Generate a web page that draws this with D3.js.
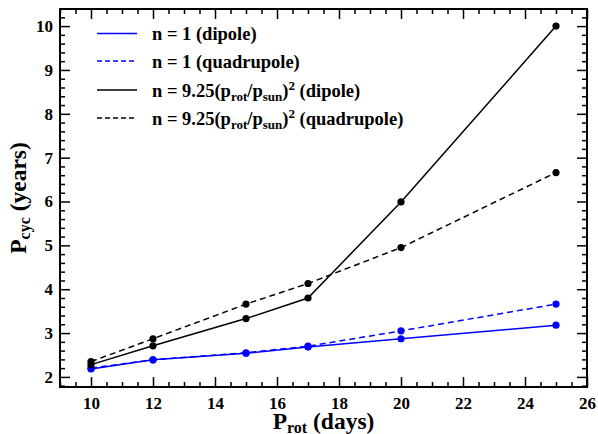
<!DOCTYPE html>
<html><head><meta charset="utf-8">
<script src="https://cdn.jsdelivr.net/npm/d3@7"></script>
<style>body{margin:0;background:#fff}svg{display:block}</style>
</head><body>
<svg id="c" width="598" height="434" font-weight="bold"></svg>
<script>
const prot = [10, 12, 15, 17, 20, 25];
const dipoleN1 = [2.18, 2.39, 2.54, 2.68, 2.87, 3.18];
const quadN1 = [2.20, 2.39, 2.55, 2.70, 3.05, 3.66];
const dipoleN925 = [2.28, 2.71, 3.33, 3.80, 5.99, 10.0];
const quadN925 = [2.35, 2.87, 3.66, 4.13, 4.95, 6.66];
const xTicks = [10, 12, 14, 16, 18, 20, 22, 24, 26];
const yTicks = [2, 3, 4, 5, 6, 7, 8, 9, 10];

const series = [
  {vals: dipoleN1, color: "#0000ff", dash: null},
  {vals: quadN1, color: "#0000ff", dash: "6,4"},
  {vals: dipoleN925, color: "#000", dash: null},
  {vals: quadN925, color: "#000", dash: "6,4"}
];
const FONT = "Liberation Serif";

const L = 60, R = 587, T = 9, B = 387;
const svg = d3.select("#c");
const x = d3.scaleLinear().domain([9, 26]).range([L, R]);
const y = d3.scaleLinear().domain([1.77, 10.39]).range([B, T]);

const minorX = d3.range(9, 26.01, 0.5).filter(v => !xTicks.includes(v));
const minorY = d3.range(1.8, 10.39, 0.2).map(v => +v.toFixed(1)).filter(v => !yTicks.includes(v));

function axis(gen, tr, size) {
  const g = svg.append("g").attr("transform", tr).call(gen.tickSizeInner(size).tickSizeOuter(0));
  g.attr("font-family", null).attr("font-weight", "bold");
  g.select(".domain").remove();
  g.selectAll("line").attr("stroke", "#000").attr("stroke-width", 1.5);
  return g;
}
// bottom
const gb = axis(d3.axisBottom(x).tickValues(xTicks).tickFormat(d3.format("d")).tickPadding(10), `translate(0,${B})`, -10);
gb.selectAll("text").attr("font-size", 17).attr("fill", "#000").style("font-family", FONT);
axis(d3.axisBottom(x).tickValues(minorX).tickFormat(""), `translate(0,${B})`, -5);
// top
axis(d3.axisTop(x).tickValues(xTicks).tickFormat(""), `translate(0,${T})`, -10);
axis(d3.axisTop(x).tickValues(minorX).tickFormat(""), `translate(0,${T})`, -5);
// left
const gl = axis(d3.axisLeft(y).tickValues(yTicks).tickFormat(d3.format("d")).tickPadding(7), `translate(${L},0)`, -10);
gl.selectAll("text").attr("font-size", 17).attr("fill", "#000").style("font-family", FONT);
axis(d3.axisLeft(y).tickValues(minorY).tickFormat(""), `translate(${L},0)`, -5);
// right
axis(d3.axisRight(y).tickValues(yTicks).tickFormat(""), `translate(${R},0)`, -10);
axis(d3.axisRight(y).tickValues(minorY).tickFormat(""), `translate(${R},0)`, -5);

svg.append("rect").attr("x", L).attr("y", T).attr("width", R - L).attr("height", B - T)
  .attr("fill", "none").attr("stroke", "#000").attr("stroke-width", 2);

const line = d3.line().x((d, i) => x(prot[i])).y(d => y(d));
series.forEach(s => {
  svg.append("path").datum(s.vals).attr("d", line).attr("fill", "none")
    .attr("stroke", s.color).attr("stroke-width", 1.5).attr("stroke-dasharray", s.dash);
  svg.append("g").selectAll("circle").data(s.vals).join("circle")
    .attr("cx", (d, i) => x(prot[i])).attr("cy", d => y(d)).attr("r", 3.6).attr("fill", s.color);
});

// legend
const legY = [33.5, 61, 90, 118];
const legBase = [40, 68.3, 96.7, 125];
series.forEach((s, i) => {
  svg.append("line").attr("x1", 97).attr("x2", 137).attr("y1", legY[i]).attr("y2", legY[i])
    .attr("stroke", s.color).attr("stroke-width", 1.5).attr("stroke-dasharray", s.dash ? "5,3" : null);
  const t = svg.append("text").attr("x", 152).attr("y", legBase[i]).attr("font-size", 18.5).attr("fill", "#000").style("font-family", FONT);
  if (i < 2) {
    t.text(i === 0 ? "n = 1 (dipole)" : "n = 1 (quadrupole)");
  } else {
    t.append("tspan").text("n = 9.25(p");
    t.append("tspan").attr("font-size", 13).attr("dy", 4).text("rot");
    t.append("tspan").attr("dy", -4).text("/p");
    t.append("tspan").attr("font-size", 13).attr("dy", 4).text("sun");
    t.append("tspan").attr("dy", -4).text(")");
    t.append("tspan").attr("font-size", 13).attr("dy", -7).text("2");
    t.append("tspan").attr("dy", 7).text(i === 2 ? " (dipole)" : " (quadrupole)");
  }
});

// axis titles
const xt = svg.append("text").attr("x", (L + R) / 2).attr("y", 429).attr("text-anchor", "middle").attr("font-size", 23.5).attr("fill", "#000").style("font-family", FONT);
xt.append("tspan").text("P");
xt.append("tspan").attr("font-size", 16).attr("dy", 4).text("rot");
xt.append("tspan").attr("dy", -4).text(" (days)");

const yt = svg.append("text").attr("transform", `translate(26,${(T + B) / 2}) rotate(-90)`).attr("text-anchor", "middle").attr("font-size", 23.5).attr("fill", "#000").style("font-family", FONT);
yt.append("tspan").text("P");
yt.append("tspan").attr("font-size", 16).attr("dy", 4).text("cyc");
yt.append("tspan").attr("dy", -4).text(" (years)");
</script>
</body></html>
